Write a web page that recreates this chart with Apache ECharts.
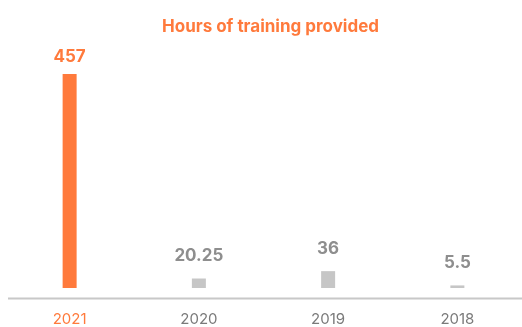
<!DOCTYPE html>
<html>
<head>
<meta charset="utf-8">
<script src="https://cdn.jsdelivr.net/npm/echarts@6/dist/echarts.min.js"></script>
<style>
  html, body { margin: 0; padding: 0; background: #fff; }
  #chart { width: 522px; height: 327px; }
</style>
</head>
<body>
<div id="chart"></div>
<script>
// Hours of training provided, by year
const years = ['2021', '2020', '2019', '2018'];
const hours = [457, 20.25, 36, 5.5];
const valueLabels = ['457', '20.25', '36', '5.5'];

const ORANGE = '#FF7A3C';
const GREY_BAR = '#C6C6C6';
const GREY_TEXT = '#8E8E8E';
const FONT = 'Inter, "Noto Sans", sans-serif';

const chart = echarts.init(document.getElementById('chart'), null, { renderer: 'canvas' });

const seriesData = hours.map((v, i) => {
  const current = i === 0;
  return {
    value: v,
    itemStyle: { color: current ? ORANGE : GREY_BAR },
    label: {
      color: current ? ORANGE : GREY_TEXT,
      distance: current ? 9 : 14,
      formatter: valueLabels[i]
    }
  };
});

chart.setOption({
  animation: false,
  title: {
    text: 'Hours of training provided',
    left: 157,
    top: 13,
    textStyle: { color: ORANGE, fontFamily: FONT, fontWeight: 'bold', fontSize: 17 }
  },
  grid: { left: 5, right: -6, top: 74, bottom: 39 },
  xAxis: {
    type: 'category',
    data: years,
    axisLine: { show: false },
    axisTick: { show: false },
    axisLabel: {
      margin: 24,
      fontFamily: FONT,
      fontSize: 15,
      color: (val) => (val === years[0] ? ORANGE : '#7A7A7A')
    }
  },
  yAxis: {
    type: 'value',
    min: 0,
    max: 457,
    show: false,
    splitLine: { show: false }
  },
  graphic: [{
    type: 'line',
    shape: { x1: 8, y1: 298.5, x2: 522, y2: 298.5 },
    style: { stroke: '#C8C8C8', lineWidth: 2 },
    silent: true
  }],
  series: [{
    type: 'bar',
    data: seriesData,
    barWidth: 14,
    label: {
      show: true,
      position: 'top',
      fontFamily: FONT,
      fontWeight: 'bold',
      fontSize: 17
    }
  }]
});
</script>
</body>
</html>
